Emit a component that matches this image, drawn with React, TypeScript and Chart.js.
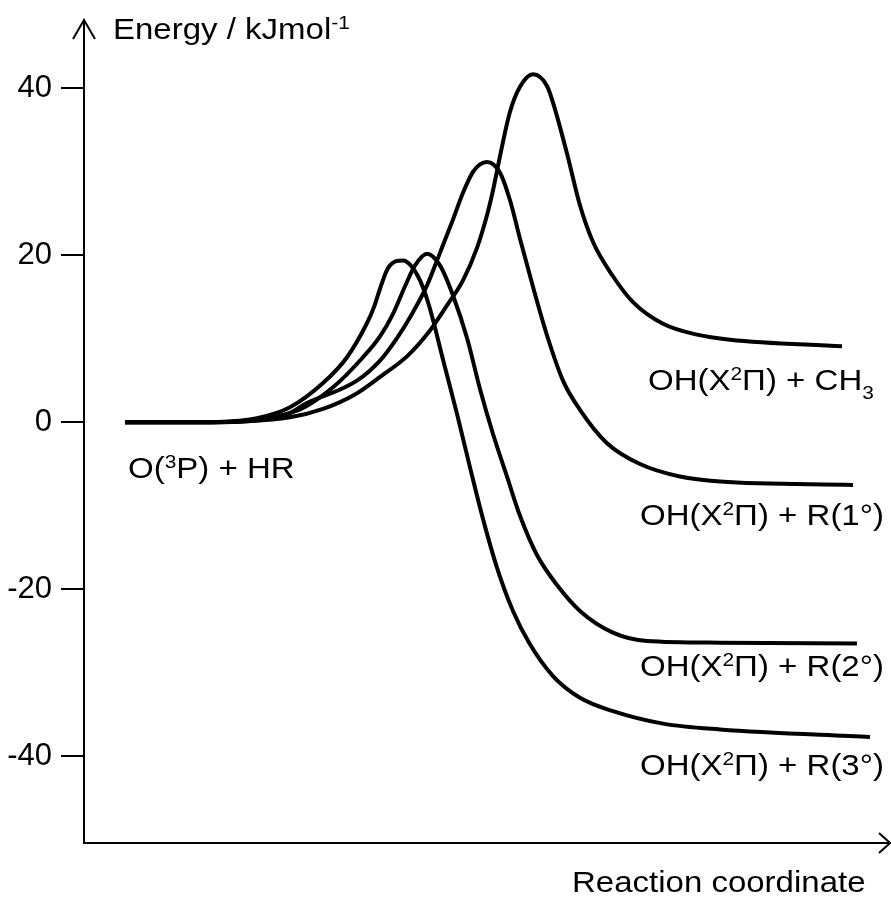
import React, { useEffect, useRef } from 'react';
import { Chart, registerables } from 'chart.js';

Chart.register(...registerables);

// Reaction coordinate (0-100, arbitrary) and energy (kJ/mol) for each path
const xCH3 = [5.09, 14.41, 25.59, 29.69, 33.6, 37.0, 40.12, 42.98, 45.09, 47.08, 48.82, 50.06, 50.81, 51.68, 52.92, 54.16, 55.78, 57.52, 58.51, 60.0, 61.61, 63.23, 65.71, 68.2, 71.93, 76.15, 80.25, 94.16];
const yCH3 = [0, 0, 0.6, 1.6, 3.3, 5.6, 7.9, 11.0, 14.0, 17.0, 20.9, 24.8, 27.8, 31.9, 37.2, 40.2, 41.7, 40.3, 37.5, 32.2, 26.0, 21.6, 17.5, 14.4, 11.8, 10.5, 9.9, 9.1];

const xR1 = [5.09, 14.41, 24.35, 27.7, 33.91, 36.77, 38.88, 40.87, 42.61, 44.22, 45.84, 47.08, 48.32, 49.19, 50.06, 51.68, 52.92, 54.16, 55.78, 57.52, 59.5, 61.61, 64.97, 69.07, 74.04, 79.01, 95.53];
const yR1 = [0, 0, 0.6, 2.3, 5.0, 7.4, 10.1, 13.2, 16.4, 20.3, 24.3, 27.5, 30.0, 30.9, 31.2, 29.9, 26.6, 22.0, 16.2, 10.4, 5.0, 1.5, -2.5, -5.0, -6.5, -7.1, -7.5];

const xR2 = [5.09, 14.41, 26.46, 30.93, 34.66, 36.77, 38.39, 39.88, 41.12, 42.61, 44.22, 45.84, 47.58, 49.19, 50.81, 52.55, 54.16, 56.27, 58.76, 61.61, 65.71, 69.94, 79.01, 96.02];
const yR2 = [0, 0, 1.4, 4.2, 7.8, 10.3, 13.0, 16.3, 18.8, 20.2, 18.8, 15.2, 10.1, 4.0, -1.4, -6.5, -11.2, -15.9, -19.5, -22.6, -25.2, -26.2, -26.4, -26.5];

const xR3 = [5.09, 14.41, 21.49, 25.59, 29.69, 32.67, 35.16, 36.02, 36.77, 37.52, 38.01, 38.76, 39.63, 40.5, 41.74, 42.86, 44.6, 46.34, 47.95, 49.57, 51.3, 53.29, 55.4, 58.26, 61.61, 65.71, 71.93, 79.01, 97.64];
const yR3 = [0, 0, 0.5, 1.8, 4.7, 7.8, 11.9, 13.8, 16.0, 18.0, 18.8, 19.3, 19.4, 18.9, 17.0, 14.0, 7.5, 1.0, -5.4, -11.6, -17.4, -22.6, -26.6, -30.4, -33.0, -34.6, -36.1, -36.8, -37.7];

const seriesNames = ['CH3', 'R(1°)', 'R(2°)', 'R(3°)'];
const seriesX = [xCH3, xR1, xR2, xR3];
const seriesY = [yCH3, yR1, yR2, yR3];

const yTicks = [40, 20, 0, -20, -40];

type Part = { t: string; k?: 'sup' | 'sub' };

const yTitle: Part[] = [{ t: 'Energy / kJmol' }, { t: '-1', k: 'sup' }];
const xTitle: Part[] = [{ t: 'Reaction coordinate' }];
const reactantLabel: Part[] = [{ t: 'O(' }, { t: '3', k: 'sup' }, { t: 'P) + HR' }];
const productLabels: Part[][] = [
  [{ t: 'OH(X' }, { t: '2', k: 'sup' }, { t: 'Π) + CH' }, { t: '3', k: 'sub' }],
  [{ t: 'OH(X' }, { t: '2', k: 'sup' }, { t: 'Π) + R(1°)' }],
  [{ t: 'OH(X' }, { t: '2', k: 'sup' }, { t: 'Π) + R(2°)' }],
  [{ t: 'OH(X' }, { t: '2', k: 'sup' }, { t: 'Π) + R(3°)' }],
];

const FONT = '"Liberation Sans", Arial, Helvetica, sans-serif';

function drawRich(ctx: CanvasRenderingContext2D, parts: Part[], x: number, y: number, size = 30, sx = 1.1) {
  ctx.save();
  ctx.translate(x, y);
  ctx.scale(sx, 1);
  ctx.textAlign = 'left';
  ctx.textBaseline = 'alphabetic';
  ctx.fillStyle = '#000';
  let cx = 0;
  for (const p of parts) {
    const fs = p.k ? Math.round(size * 0.63) : size;
    ctx.font = `${fs}px ${FONT}`;
    const dy = p.k === 'sup' ? -size * 0.32 : p.k === 'sub' ? size * 0.3 : 0;
    ctx.fillText(p.t, cx, dy);
    cx += ctx.measureText(p.t).width;
  }
  ctx.restore();
}

const annotPlugin = {
  id: 'annot',
  afterDraw(chart: any) {
    const ctx: CanvasRenderingContext2D = chart.ctx;
    const { left, top, right, bottom } = chart.chartArea;
    ctx.save();
    ctx.strokeStyle = '#000';
    ctx.lineWidth = 2;
    ctx.lineCap = 'butt';
    ctx.lineJoin = 'miter';
    // y-axis arrow head
    ctx.beginPath();
    ctx.moveTo(left - 11, top + 19);
    ctx.lineTo(left, top);
    ctx.lineTo(left + 11, top + 19);
    ctx.stroke();
    // x-axis extension + arrow head
    ctx.beginPath();
    ctx.moveTo(right - 2, bottom);
    ctx.lineTo(right + 1, bottom);
    ctx.stroke();
    ctx.beginPath();
    ctx.moveTo(right - 10, bottom - 10);
    ctx.lineTo(right + 1, bottom);
    ctx.lineTo(right - 10, bottom + 10);
    ctx.stroke();
    ctx.restore();

    drawRich(ctx, yTitle, 113, 39);
    drawRich(ctx, xTitle, 572, 892);
    drawRich(ctx, reactantLabel, 128, 478);
    const pos = [
      [648, 390],
      [640, 525],
      [640, 676],
      [640, 775],
    ];
    productLabels.forEach((lab, i) => drawRich(ctx, lab, pos[i][0], pos[i][1]));
  },
};

export default function App() {
  const ref = useRef<HTMLCanvasElement | null>(null);
  useEffect(() => {
    if (!ref.current) return;
    const datasets = seriesNames.map((name, i) => ({
      label: name,
      data: seriesX[i].map((x, j) => ({ x, y: seriesY[i][j] })),
      borderColor: '#000',
      borderWidth: 4,
      pointRadius: 0,
      fill: false,
      cubicInterpolationMode: 'monotone' as const,
      borderCapStyle: 'butt' as const,
      borderJoinStyle: 'round' as const,
    }));
    const chart = new Chart(ref.current, {
      type: 'line',
      data: { datasets },
      options: {
        animation: false,
        responsive: true,
        maintainAspectRatio: false,
        layout: { padding: { top: 20, right: 2, bottom: 54, left: 0 } },
        plugins: { legend: { display: false }, tooltip: { enabled: false } },
        scales: {
          x: {
            type: 'linear',
            min: 0,
            max: 100,
            ticks: { display: false },
            grid: { display: false, drawTicks: false },
            border: { display: true, color: '#000', width: 2 },
            afterFit: (s: any) => {
              s.height = 0;
              s.paddingLeft = 0;
              s.paddingRight = 0;
              s.paddingTop = 0;
              s.paddingBottom = 0;
            },
          },
          y: {
            type: 'linear',
            min: -50.4,
            max: 48.2,
            afterBuildTicks: (s: any) => {
              s.ticks = yTicks.map((v) => ({ value: v }));
            },
            afterFit: (s: any) => {
              s.width = 84;
              s.paddingLeft = 0;
              s.paddingRight = 0;
              s.paddingTop = 0;
              s.paddingBottom = 0;
            },
            ticks: {
              font: { family: FONT, size: 31 },
              color: '#000',
              padding: 9,
              callback: (v: any) => String(v),
            },
            grid: { drawOnChartArea: false, color: '#000', lineWidth: 2, tickLength: 23 },
            border: { display: true, color: '#000', width: 2 },
          },
        },
      },
      plugins: [annotPlugin],
    } as any);
    return () => chart.destroy();
  }, []);
  return (
    <div style={{ position: 'fixed', left: 0, top: 0, width: 891, height: 897, background: '#fff' }}>
      <canvas ref={ref} />
    </div>
  );
}
